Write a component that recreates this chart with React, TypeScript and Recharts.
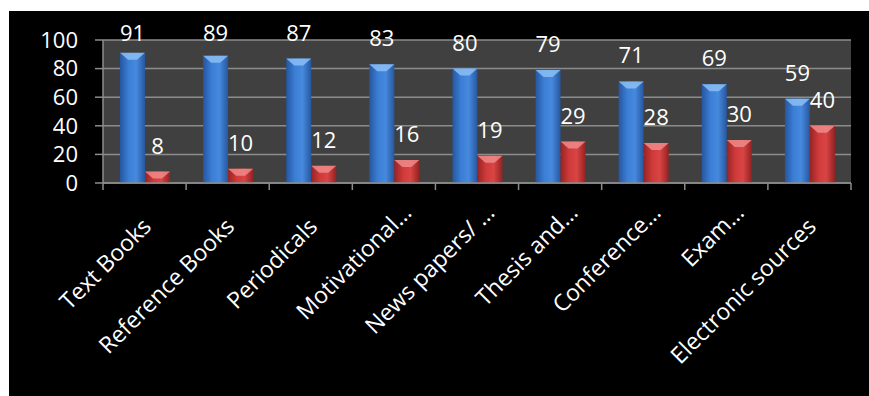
import { BarChart, Bar, XAxis, YAxis, CartesianGrid, LabelList } from "recharts";

// categories along the x axis (long names are shortened with an ellipsis)
const CATEGORIES = [
  "Text Books",
  "Reference Books",
  "Periodicals",
  "Motivational…",
  "News papers/ …",
  "Thesis and…",
  "Conference…",
  "Exam…",
  "Electronic sources",
];

// blue series
const SERIES_A = [91, 89, 87, 83, 80, 79, 71, 69, 59];
// red series
const SERIES_B = [8, 10, 12, 16, 19, 29, 28, 30, 40];

const Y_TICKS = [0, 20, 40, 60, 80, 100];

const data = CATEGORIES.map((name, i) => ({
  name,
  a: SERIES_A[i],
  b: SERIES_B[i],
}));

const WIDTH = 860;
const HEIGHT = 385;
const MARGIN = { top: 29, right: 18, bottom: 0, left: 0 };
const Y_AXIS_WIDTH = 94;
const BAND = (WIDTH - MARGIN.left - MARGIN.right - Y_AXIS_WIDTH) / CATEGORIES.length;
const FONT = '"Open Sans", sans-serif';
const AXIS_GRAY = "#8c8c8c";

// bar with a side-lit gradient and a lighter bevel on top
const cylinder = (gradientId: string, cap: string) => (props: any) => {
  const { x, y, width, height } = props;
  if (!height || height <= 0) return null;
  const capH = Math.min(7, height);
  return (
    <g>
      <rect x={x} y={y} width={width} height={height} fill={`url(#${gradientId})`} />
      <path
        d={`M${x},${y} L${x + width},${y} L${x + width * 0.68},${y + capH} L${x + width * 0.32},${y + capH} Z`}
        fill={cap}
        opacity={0.85}
      />
    </g>
  );
};

// value above each bar, kept inside the plot at the top
const TopLabel = (props: any) => {
  const { x, y, width, value } = props;
  const baseline = Math.max(y - 18, MARGIN.top + 1);
  return (
    <text
      x={x + width / 2}
      y={baseline}
      textAnchor="middle"
      fill="#ffffff"
      fontSize={22}
      fontFamily={FONT}
    >
      {value}
    </text>
  );
};

// rotated category names, plus tick marks on the borders between categories
const CategoryTick = (props: any) => {
  const { x, y, payload, index } = props;
  const label = String(payload.value);
  const cut = label.endsWith("…");
  const dx = cut ? 19 : 8;
  const dy = cut ? 31 : 45;
  const last = index === CATEGORIES.length - 1;
  return (
    <g>
      <line x1={x - BAND / 2} x2={x - BAND / 2} y1={y} y2={y + 7} stroke={AXIS_GRAY} strokeWidth={1.5} />
      {last && (
        <line x1={x + BAND / 2} x2={x + BAND / 2} y1={y} y2={y + 7} stroke={AXIS_GRAY} strokeWidth={1.5} />
      )}
      <g transform={`translate(${x + dx},${y + dy})`}>
        <text
          transform="rotate(-45)"
          textAnchor="end"
          fill="#ffffff"
          fontSize={23}
          fontFamily={FONT}
        >
          {label}
        </text>
      </g>
    </g>
  );
};

export default function App() {
  return (
    <div
      style={{
        position: "absolute",
        left: 9,
        top: 11,
        width: WIDTH,
        height: HEIGHT,
        background: "#000000",
      }}
    >
      <BarChart
        width={WIDTH}
        height={HEIGHT}
        data={data}
        margin={MARGIN}
        barSize={25}
        barGap={0}
      >
        <defs>
          <linearGradient id="blueBar" x1="0" y1="0" x2="1" y2="0">
            <stop offset="0%" stopColor="#2656a0" />
            <stop offset="35%" stopColor="#3b7fd6" />
            <stop offset="65%" stopColor="#4689de" />
            <stop offset="100%" stopColor="#27579e" />
          </linearGradient>
          <linearGradient id="redBar" x1="0" y1="0" x2="1" y2="0">
            <stop offset="0%" stopColor="#962424" />
            <stop offset="35%" stopColor="#d03a3a" />
            <stop offset="65%" stopColor="#d94444" />
            <stop offset="100%" stopColor="#932222" />
          </linearGradient>
        </defs>
        <CartesianGrid
          vertical={false}
          stroke={AXIS_GRAY}
          strokeWidth={1.5}
          fill="#404040"
        />
        <XAxis
          dataKey="name"
          height={213}
          axisLine={{ stroke: AXIS_GRAY, strokeWidth: 1.5 }}
          tickLine={false}
          tickSize={0}
          tickMargin={0}
          interval={0}
          tick={<CategoryTick />}
        />
        <YAxis
          domain={[0, 100]}
          ticks={Y_TICKS}
          interval={0}
          width={Y_AXIS_WIDTH}
          tickSize={8}
          tickMargin={17}
          stroke={AXIS_GRAY}
          strokeWidth={1.5}
          tick={{ fill: "#ffffff", fontSize: 22, fontFamily: FONT }}
        />
        <Bar
          dataKey="a"
          fill="#3b7fd6"
          shape={cylinder("blueBar", "#8cc0f4")}
          isAnimationActive={false}
        >
          <LabelList dataKey="a" content={TopLabel} />
        </Bar>
        <Bar
          dataKey="b"
          fill="#d03a3a"
          shape={cylinder("redBar", "#f08a8a")}
          isAnimationActive={false}
        >
          <LabelList dataKey="b" content={TopLabel} />
        </Bar>
      </BarChart>
    </div>
  );
}
